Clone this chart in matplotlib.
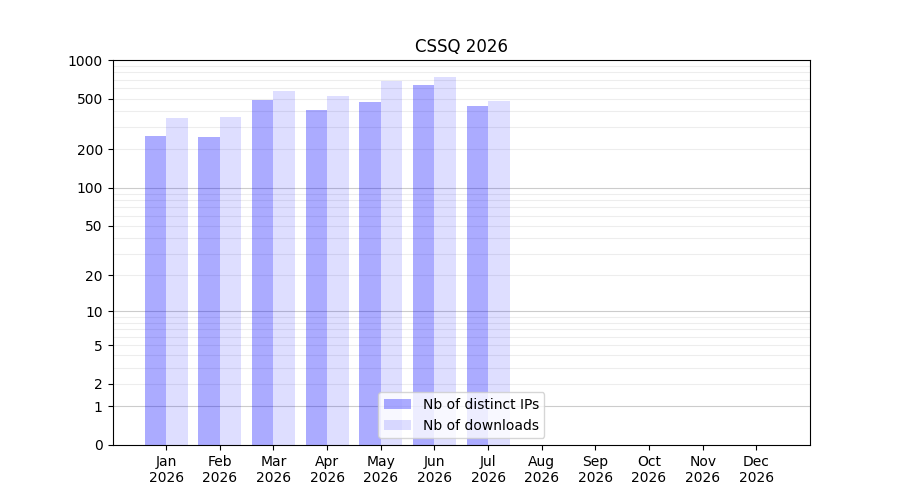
import numpy as np
import matplotlib
matplotlib.use("Agg")
import matplotlib.pyplot as plt
from matplotlib.ticker import FixedLocator, FixedFormatter

months = ["Jan\n2026", "Feb\n2026", "Mar\n2026", "Apr\n2026", "May\n2026", "Jun\n2026",
          "Jul\n2026", "Aug\n2026", "Sep\n2026", "Oct\n2026", "Nov\n2026", "Dec\n2026"]
distinct_ips = [254, 249, 486, 406, 469, 637, 436, 0, 0, 0, 0, 0]
downloads = [351, 358, 572, 523, 685, 736, 478, 0, 0, 0, 0, 0]
ytick_vals = [0, 1, 2, 5, 10, 20, 50, 100, 200, 500, 1000]

fig, ax = plt.subplots(figsize=(9, 5), dpi=100)
ax.set_yscale('function', functions=(lambda v: np.log10(1 + np.clip(v, 0, None)),
                                     lambda y: 10 ** y - 1))
x = np.arange(len(months))
w = 0.4
ax.bar(x, distinct_ips, width=-w, align='edge', color='blue', alpha=0.33,
       label='Nb of distinct IPs', zorder=2)
ax.bar(x, downloads, width=w, align='edge', color='blue', alpha=0.13,
       label='Nb of downloads', zorder=2)

ax.set_ylim(0, 1000)
ax.set_xlim(-1, 12)
ax.set_xticks(x)
ax.set_xticklabels(months)
ax.yaxis.set_major_locator(FixedLocator(ytick_vals))
ax.yaxis.set_major_formatter(FixedFormatter([str(v) for v in ytick_vals]))
ax.yaxis.set_minor_locator(FixedLocator([]))

majors = [1, 10, 100]
minors = [m * d for d in (1, 10, 100) for m in range(2, 10)]
for v in minors:
    ax.axhline(v, color='#000000', alpha=0.07, lw=0.8, zorder=1)
for v in majors:
    ax.axhline(v, color='#000000', alpha=0.2, lw=0.8, zorder=1)

ax.set_title('CSSQ 2026')
ax.legend(loc='lower center')
fig.savefig('out.png', dpi=100)
